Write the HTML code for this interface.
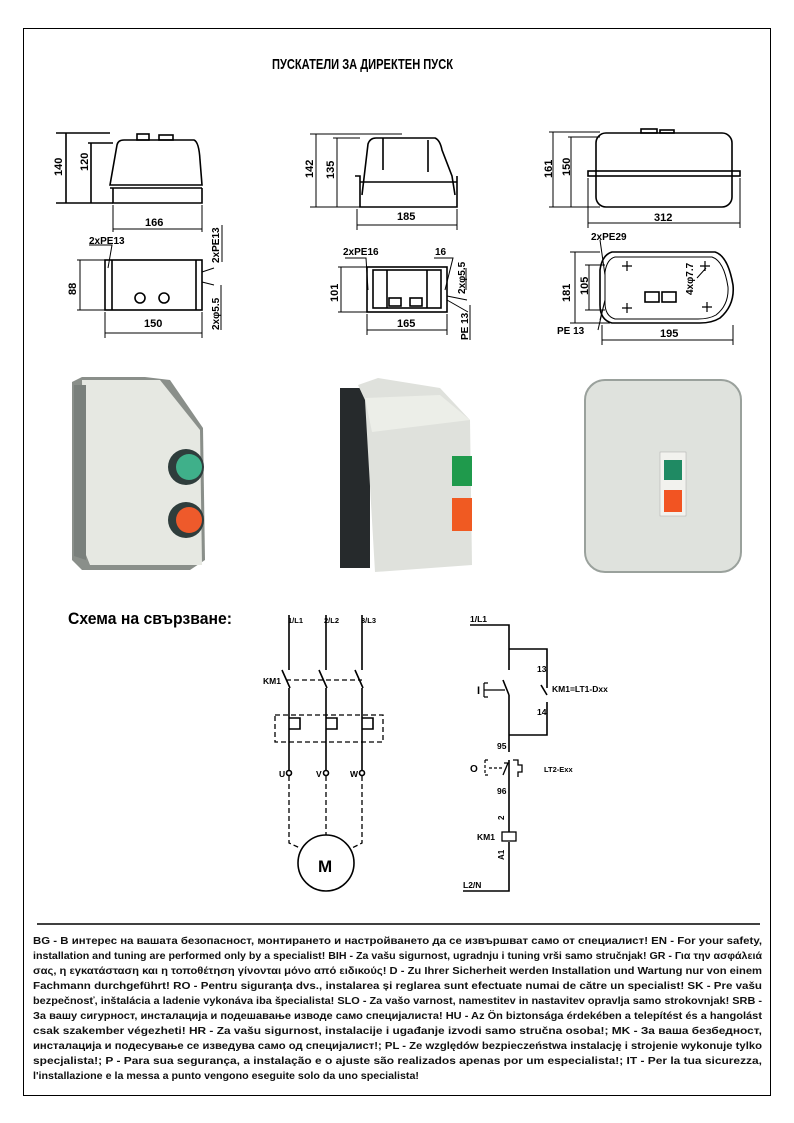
<!DOCTYPE html>
<html><head><meta charset="utf-8"><style>
body{margin:0;background:#fff;width:794px;height:1123px;overflow:hidden;}
svg{display:block}
.t{font-family:"Liberation Sans",sans-serif;font-weight:bold;}
</style></head><body>
<svg width="794" height="1123" viewBox="0 0 794 1123" xmlns="http://www.w3.org/2000/svg">
<rect x="23.5" y="28.5" width="747" height="1067" fill="none" stroke="#000" stroke-width="1"/>
<text class="t" x="272" y="69" font-size="15" textLength="181" lengthAdjust="spacingAndGlyphs">ПУСКАТЕЛИ ЗА ДИРЕКТЕН ПУСК</text>
<g fill="none" stroke="#000" stroke-width="1.6">
<path d="M110 185 L117 145 Q118 140 124 140 L194 140 Q199 142 200 160 L202 185 Z"/>
<path d="M110 188 L202 188 M113 188 L113 203 L202 203 L202 188"/>
<rect x="137" y="134" width="12" height="6"/><rect x="159" y="135" width="14" height="5"/>
<path d="M56 133 L110 133 M88 143 L113 143 M66 133 L66 203 M91 143 L91 203 M56 203 L113 203"/>
<path d="M113 205 L113 232 M202 205 L202 232 M113 229 L202 229" stroke-width="1"/>
<rect x="105" y="260" width="97" height="50"/>
<path d="M112 260 L112 310 M196 260 L196 310"/>
<circle cx="140" cy="298" r="5"/><circle cx="164" cy="298" r="5"/>
<path d="M77 260 L105 260 M77 310 L105 310 M80 260 L80 310" stroke-width="1"/>
<path d="M105 312 L105 338 M202 312 L202 338 M105 333 L202 333" stroke-width="1"/>
<path d="M89 245 L112 245 L108 268 M202 272 L214 268 M202 282 L214 285 M222 225 L222 262 M221 285 L221 330" stroke-width="1"/>
<path d="M362 195 L368 144 Q370 138 376 138 L435 138 Q440 140 442 150 L452 176 L455 195"/>
<path d="M355 176 L360 176 L360 207 L457 207 L457 176 M360 182 L457 182 M383 138 L383 170 M428 140 L428 172"/>
<path d="M310 134 L402 134 M333 138 L360 138 M316 134 L316 207 M337 138 L337 207 M310 207 L360 207" stroke-width="1"/>
<path d="M357 209 L357 230 M457 209 L457 230 M357 225 L457 225" stroke-width="1"/>
<rect x="367" y="267" width="80" height="45"/>
<rect x="373" y="270" width="68" height="38"/>
<path d="M387 270 L387 308 M427 270 L427 308"/>
<rect x="389" y="298" width="12" height="8"/><rect x="410" y="298" width="12" height="8"/>
<path d="M338 267 L367 267 M338 312 L367 312 M341 267 L341 312" stroke-width="1"/>
<path d="M367 314 L367 335 M447 314 L447 335 M367 330 L447 330" stroke-width="1"/>
<path d="M345 258 L366 258 L368 290 M434 258 L453 258 L445 290 M447 296 L467 300 M447 300 L468 312 M466 268 L466 290 M470 305 L470 340" stroke-width="1"/>
<rect x="596" y="133" width="136" height="74" rx="10"/>
<rect x="588" y="171" width="152" height="5"/>
<rect x="641" y="129" width="16" height="4"/><rect x="660" y="130" width="14" height="3"/>
<path d="M549 132 L600 132 M568 137 L600 137 M553 132 L553 207 M571 137 L571 207 M549 207 L600 207" stroke-width="1"/>
<path d="M588 178 L588 228 M740 178 L740 228 M588 223 L740 223" stroke-width="1"/>
<path d="M612 252 L715 252 Q728 256 733 285 Q735 305 720 318 Q712 323 700 323 L612 323 Q600 320 600 305 L600 270 Q602 255 612 252 Z"/>
<path d="M615 257 L712 257 Q724 261 728 287 Q729 305 716 315 Q709 319 698 319 L615 319 Q605 316 605 303 L605 272 Q607 259 615 257 Z" stroke-width="1"/>
<rect x="645" y="292" width="14" height="10"/><rect x="662" y="292" width="14" height="10"/>
<path d="M622 266 L632 266 M627 261 L627 271 M700 266 L710 266 M705 261 L705 271 M622 308 L632 308 M627 303 L627 313 M702 307 L712 307 M707 302 L707 312" stroke-width="1.2"/>
<path d="M570 252 L600 252 M570 323 L610 323 M575 252 L575 323 M585 265 L605 265 M585 310 L605 310 M589 265 L589 310" stroke-width="1"/>
<path d="M600 240 L605 275 M600 320 L605 300 M598 330 L605 300 M602 325 L602 345 M602 340 L733 340 M733 325 L733 345 M697 278 L706 268" stroke-width="1"/>
</g>
<g class="t" fill="#000">
<text x="62" y="176" font-size="11" transform="rotate(-90 62 176)">140</text>
<text x="88" y="171" font-size="11" transform="rotate(-90 88 171)">120</text>
<text x="145" y="226" font-size="11">166</text>
<text x="89" y="244" font-size="10">2xPE13</text>
<text x="219" y="263" font-size="10" transform="rotate(-90 219 263)">2xPE13</text>
<text x="76" y="295" font-size="11" transform="rotate(-90 76 295)">88</text>
<text x="144" y="327" font-size="11">150</text>
<text x="219" y="330" font-size="10" transform="rotate(-90 219 330)">2xφ5.5</text>
<text x="313" y="178" font-size="11" transform="rotate(-90 313 178)">142</text>
<text x="334" y="179" font-size="11" transform="rotate(-90 334 179)">135</text>
<text x="397" y="220" font-size="11">185</text>
<text x="343" y="255" font-size="10">2xPE16</text>
<text x="435" y="255" font-size="10">16</text>
<text x="338" y="302" font-size="11" transform="rotate(-90 338 302)">101</text>
<text x="397" y="327" font-size="11">165</text>
<text x="465" y="294" font-size="10" transform="rotate(-90 465 294)">2xφ5.5</text>
<text x="468" y="340" font-size="10" transform="rotate(-90 468 340)">PE 13</text>
<text x="552" y="178" font-size="11" transform="rotate(-90 552 178)">161</text>
<text x="570" y="176" font-size="11" transform="rotate(-90 570 176)">150</text>
<text x="654" y="221" font-size="11">312</text>
<text x="591" y="240" font-size="10">2xPE29</text>
<text x="570" y="302" font-size="11" transform="rotate(-90 570 302)">181</text>
<text x="588" y="295" font-size="11" transform="rotate(-90 588 295)">105</text>
<text x="693" y="295" font-size="10" transform="rotate(-90 693 295)">4xφ7.7</text>
<text x="557" y="334" font-size="10">PE 13</text>
<text x="660" y="337" font-size="11">195</text>
</g>
<g>
<path d="M72 382 L82 377 L145 377 L170 380 L203 428 L205 560 L190 570 L82 570 L72 560 Z" fill="#8a8f8a"/>
<path d="M82 380 L160 380 L200 430 L202 565 L90 565 L84 550 Z" fill="#e6e8e2"/>
<path d="M74 385 L86 385 L86 560 L74 556 Z" fill="#7a807c"/>
<circle cx="186" cy="467" r="18" fill="#2f3d3c"/><circle cx="189" cy="467" r="13" fill="#3fb08a"/>
<circle cx="186" cy="520" r="18" fill="#2f3d3c"/><circle cx="189" cy="520" r="13" fill="#ee5a2b"/>
<rect x="340" y="388" width="30" height="180" fill="#262a2c"/>
<path d="M358 385 L378 378 L440 388 L470 420 L472 565 L375 572 L365 400 Z" fill="#dfe1dc"/>
<path d="M365 398 L440 395 L470 420 L372 432 Z" fill="#eceee8"/>
<rect x="452" y="456" width="20" height="30" fill="#1f9a4c"/>
<rect x="452" y="498" width="20" height="33" fill="#f05a22"/>
<rect x="585" y="380" width="156" height="192" rx="20" fill="#dfe2dd" stroke="#9aa19c" stroke-width="2"/>
<rect x="660" y="452" width="26" height="64" fill="#f2f2ee" stroke="#aaa" stroke-width="0.5"/>
<rect x="664" y="460" width="18" height="20" fill="#1f8a63"/>
<rect x="664" y="490" width="18" height="22" fill="#f25422"/>
</g>
<text class="t" x="68" y="624" font-size="16.5" textLength="164" lengthAdjust="spacingAndGlyphs">Схема на свързване:</text>
<g fill="none" stroke="#000" stroke-width="1.6">
<path d="M289 615 L289 670 M326 615 L326 670 M362 615 L362 670"/>
<path d="M282 670 L290 688 M319 670 L327 688 M355 670 L363 688"/>
<path d="M289 688 L289 770 M326 688 L326 770 M362 688 L362 770"/>
<path d="M289 718 L300 718 L300 729 L289 729 M326 718 L337 718 L337 729 L326 729 M362 718 L373 718 L373 729 L362 729"/>
<path d="M286 680 L362 680 M275 715 L383 715 L383 742 L275 742 Z" stroke-dasharray="5,3" stroke-width="1.3"/>
<circle cx="289" cy="773" r="2.5"/><circle cx="326" cy="773" r="2.5"/><circle cx="362" cy="773" r="2.5"/>
<path d="M289 776 L289 843 L300 848 M326 776 L326 835 M362 776 L362 843 L352 848" stroke-dasharray="5,3" stroke-width="1.3"/>
<circle cx="326" cy="863" r="28"/>
<path d="M470 625 L509 625 L509 670 M503 680 L509 695 M509 695 L509 752 M509 649 L547 649 L547 688 M541 685 L547 695 M547 702 L547 735 L509 735"/>
<path d="M484 683 L484 697 M484 683 L488 683 M484 697 L488 697 M484 690 L505 690" stroke-width="1.2"/>
<path d="M509 760 L509 832 M509 842 L509 891 L463 891"/>
<path d="M504 763 L508 763 L503 775 M513 760 L518 760 L518 765 L522 765 L522 772 L518 772 L518 777" stroke-width="1.3"/>
<path d="M485 760 L485 775 M485 760 L489 760 M485 775 L489 775 M489 768 L503 768" stroke-dasharray="3,2" stroke-width="1.2"/>
<rect x="502" y="832" width="14" height="9" stroke-width="1.3"/>
</g>
<g class="t" fill="#000" font-size="8.5">
<text x="288" y="623" font-size="7.5">1/L1</text>
<text x="324" y="623" font-size="7.5">2/L2</text>
<text x="361" y="623" font-size="7.5">3/L3</text>
<text x="263" y="684">KM1</text>
<text x="279" y="777">U</text><text x="316" y="777">V</text><text x="350" y="777">W</text>
<text x="318" y="872" font-size="17">M</text>
<text x="470" y="622">1/L1</text>
<text x="537" y="672">13</text>
<text x="552" y="692">KM1=LT1-Dxx</text>
<text x="537" y="715">14</text>
<text x="477" y="694" font-size="11">I</text>
<text x="497" y="749">95</text>
<text x="470" y="772" font-size="10">O</text>
<text x="544" y="772" font-size="7.5">LT2-Exx</text>
<text x="497" y="794">96</text>
<text x="504" y="820" font-size="8" transform="rotate(-90 504 820)">2</text>
<text x="477" y="840">KM1</text>
<text x="504" y="860" font-size="8" transform="rotate(-90 504 860)">A1</text>
<text x="463" y="888">L2/N</text>
</g>
<line x1="37" y1="924" x2="760" y2="924" stroke="#000" stroke-width="1.5"/>
<g class="t" fill="#111" font-size="10.3" lengthAdjust="spacingAndGlyphs">
<text x="33" y="944" textLength="729" lengthAdjust="spacingAndGlyphs">BG - В интерес на вашата безопасност, монтирането и настройването да се извършват само от специалист! EN - For your safety,</text>
<text x="33" y="959" textLength="729" lengthAdjust="spacingAndGlyphs">installation and tuning are performed only by a specialist! BIH - Za vašu sigurnost, ugradnju i tuning vrši samo stručnjak! GR - Για την ασφάλειά</text>
<text x="33" y="974" textLength="729" lengthAdjust="spacingAndGlyphs">σας, η εγκατάσταση και η τοποθέτηση γίνονται μόνο από ειδικούς! D - Zu Ihrer Sicherheit werden Installation und Wartung nur von einem</text>
<text x="33" y="989" textLength="729" lengthAdjust="spacingAndGlyphs">Fachmann durchgeführt! RO - Pentru siguranța dvs., instalarea și reglarea sunt efectuate numai de către un specialist! SK - Pre vašu</text>
<text x="33" y="1004" textLength="729" lengthAdjust="spacingAndGlyphs">bezpečnosť, inštalácia a ladenie vykonáva iba špecialista! SLO - Za vašo varnost, namestitev in nastavitev opravlja samo strokovnjak! SRB -</text>
<text x="33" y="1019" textLength="729" lengthAdjust="spacingAndGlyphs">За вашу сигурност, инсталација и подешавање изводе само специјалиста! HU - Az Ön biztonsága érdekében a telepítést és a hangolást</text>
<text x="33" y="1034" textLength="729" lengthAdjust="spacingAndGlyphs">csak szakember végezheti! HR - Za vašu sigurnost, instalacije i ugađanje izvodi samo stručna osoba!; MK - За ваша безбедност,</text>
<text x="33" y="1049" textLength="729" lengthAdjust="spacingAndGlyphs">инсталација и подесување се изведува само од специјалист!; PL - Ze względów bezpieczeństwa instalację i strojenie wykonuje tylko</text>
<text x="33" y="1064" textLength="729" lengthAdjust="spacingAndGlyphs">specjalista!; P - Para sua segurança, a instalação e o ajuste são realizados apenas por um especialista!; IT - Per la tua sicurezza,</text>
<text x="33" y="1079" textLength="386" lengthAdjust="spacingAndGlyphs">l'installazione e la messa a punto vengono eseguite solo da uno specialista!</text>
</g>
</svg>
</body></html>
